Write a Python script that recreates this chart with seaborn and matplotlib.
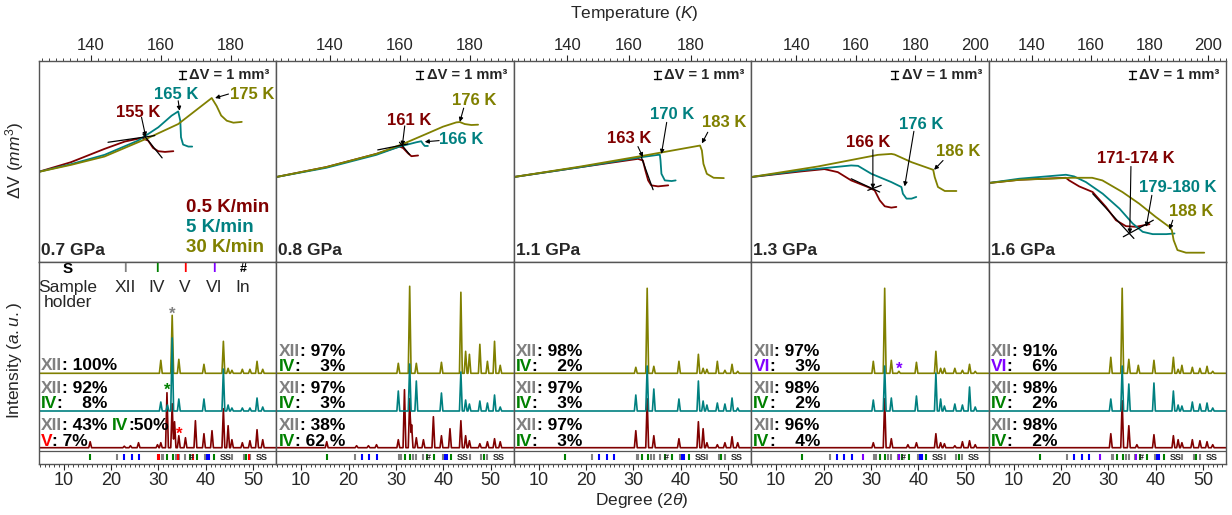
import re
import matplotlib
matplotlib.use('Agg')
import matplotlib.pyplot as plt
import matplotlib.transforms as mtransforms
from matplotlib.ticker import MultipleLocator
import seaborn as sns

RED = '#800000'
TEAL = '#008080'
OLIVE = '#808000'
PHASE_COL = {'XII': '#808080', 'IV': '#008000', 'V': '#ff0000', 'VI': '#8000ff'}

# ---------------- dilatometry (top row) ----------------
pressures = ['0.7 GPa', '0.8 GPa', '1.1 GPa', '1.3 GPa', '1.6 GPa']
t_limits = [(125, 193), (124.7, 192.4), (122.6, 199.5), (124.7, 204.6), (125.3, 206)]

T07_05 = [124.75, 134.3, 143.9, 149.7, 154.5, 156.4, 157.8, 159.3, 161.2, 163.6]
V07_05 = [11.29, 12.54, 14.21, 15.13, 15.58, 15.25, 14.33, 13.92, 13.83, 13.92]
T07_5 = [124.75, 134.3, 143.9, 153.5, 159.3, 163.1, 165.0, 165.6, 165.8, 166.4, 167.9, 169.0]
V07_5 = [11.29, 12.29, 13.46, 15.25, 16.92, 18.38, 18.92, 17.75, 15.67, 14.75, 14.5, 14.5]
T07_30 = [124.75, 134.3, 143.9, 156.4, 165.0, 174.6, 176.0, 177.3, 178.9, 180.8, 183.2]
V07_30 = [11.29, 12.2, 13.25, 15.58, 17.33, 20.6, 19.6, 18.4, 17.75, 17.5, 17.6]

T08_05 = [124.7, 139.0, 153.3, 159.9, 160.9, 162.3, 163.3, 165.2]
V08_05 = [10.67, 11.92, 13.58, 14.5, 14.33, 13.67, 13.29, 13.38]
T08_5 = [124.7, 139.0, 153.3, 159.9, 164.7, 166.1, 166.6, 167.1, 168.0]
V08_5 = [10.67, 11.83, 13.46, 14.5, 15.04, 15.17, 14.83, 14.58, 14.58]
T08_30 = [124.7, 139.0, 153.3, 160.9, 167.5, 172.3, 176.1, 177.1, 178.5, 180.4, 182.3]
V08_30 = [10.67, 11.92, 13.58, 14.83, 16.08, 17.0, 17.54, 17.58, 17.33, 17.21, 17.25]

T11_05 = [122.6, 144.4, 162.9, 164.5, 165.3, 166.2, 167.2, 169.4, 172.7]
V11_05 = [10.67, 11.92, 12.96, 12.75, 11.5, 10.25, 9.63, 9.5, 9.63]
T11_5 = [122.6, 144.4, 164.0, 169.4, 170.0, 170.2, 170.5, 171.6, 173.8, 175.1]
V11_5 = [10.67, 11.92, 13.17, 13.46, 13.46, 12.75, 11.08, 10.25, 10.17, 10.25]
T11_30 = [122.6, 144.4, 166.2, 183.0, 183.6, 184.1, 185.2, 187.4, 190.7]
V11_30 = [10.67, 12.0, 13.46, 14.63, 14.0, 12.33, 11.08, 10.58, 10.54]

T13_05 = [124.7, 141.6, 149.4, 153.9, 158.4, 164.0, 166.3, 168.0, 169.7, 171.9, 173.6]
V13_05 = [10.67, 11.38, 11.67, 11.29, 10.25, 9.42, 9.0, 7.75, 7.0, 6.83, 6.92]
T13_5 = [124.7, 141.6, 158.4, 160.7, 165.2, 171.9, 175.3, 175.8, 177.0, 178.7, 180.3]
V13_5 = [10.67, 11.5, 12.13, 12.08, 11.08, 10.04, 9.42, 8.58, 7.96, 7.96, 8.17]
T13_30 = [124.7, 147.2, 167.4, 171.9, 173.0, 178.7, 186.0, 186.5, 187.6, 189.9, 193.8]
V13_30 = [10.67, 12.0, 13.46, 13.58, 13.5, 12.54, 11.58, 10.67, 9.42, 8.92, 8.92]

T16_05 = [125.3, 135.7, 151.6, 152.7, 156.1, 160.7, 165.2, 168.6, 172.0, 175.4, 178.3, 180.0]
V16_05 = [9.92, 10.33, 10.58, 10.25, 9.5, 8.79, 6.92, 5.25, 4.5, 4.42, 4.63, 4.75]
T16_5 = [125.3, 135.7, 151.6, 154.4, 158.4, 164.1, 169.8, 174.3, 177.7, 181.1, 185.7, 188.5]
V16_5 = [9.92, 10.46, 10.96, 10.75, 10.04, 8.58, 6.71, 4.83, 3.79, 3.5, 3.5, 3.58]
T16_30 = [125.3, 136.0, 153.7, 160.5, 164.0, 170.8, 176.5, 182.1, 186.7, 187.6, 188.2, 189.5, 192.4, 198.6]
V16_30 = [9.92, 10.33, 10.58, 10.58, 10.25, 8.79, 7.33, 5.67, 4.42, 4.0, 2.75, 1.5, 1.17, 1.17]

curves = [
    [(T07_05, V07_05), (T07_5, V07_5), (T07_30, V07_30)],
    [(T08_05, V08_05), (T08_5, V08_5), (T08_30, V08_30)],
    [(T11_05, V11_05), (T11_5, V11_5), (T11_30, V11_30)],
    [(T13_05, V13_05), (T13_5, V13_5), (T13_30, V13_30)],
    [(T16_05, V16_05), (T16_5, V16_5), (T16_30, V16_30)],
]

# black tangent construction lines
tangents = [
    [([144.9, 158.3], [15.04, 15.88]), ([154.9, 160.4], [16.08, 13.08])],
    [([153.7, 162.3], [14.08, 14.83]), ([159.9, 162.8], [15.04, 13.5])],
    [([164.0, 167.8], [13.17, 9.08])],
    [([158.4, 168.0], [10.46, 8.79]), ([164.0, 168.5], [9.0, 9.63])],
    [([160.7, 174.7], [8.58, 2.96]), ([171.1, 181.3], [3.17, 5.25])],
]

# (label, colour, text pos, arrow start, arrow end)
transitions = [
    [('155 K', RED, (153.5, 18.8), (154.5, 18.17), (155.7, 15.75)),
     ('165 K', TEAL, (164.5, 21.1), (165.0, 20.25), (165.4, 19.0)),
     ('175 K', OLIVE, (186.1, 21.1), (179.4, 21.1), (175.55, 20.6))],
    [('161 K', RED, (162.8, 17.83), (161.4, 17.1), (160.7, 14.6)),
     ('176 K', OLIVE, (181.3, 20.33), (178.2, 19.33), (177.1, 17.6)),
     ('166 K', TEAL, (177.5, 15.33), (171.2, 15.25), (167.1, 15.1))],
    [('163 K', RED, (160.2, 15.46), (162.9, 14.5), (164.5, 13.17)),
     ('170 K', TEAL, (173.8, 18.58), (172.2, 17.54), (170.5, 13.58)),
     ('183 K', OLIVE, (190.7, 17.54), (185.5, 16.3), (183.6, 14.9))],
    [('166 K', RED, (164.0, 15.04), (165.7, 14.1), (165.7, 9.2)),
     ('176 K', TEAL, (182.0, 17.33), (179.5, 16.42), (176.4, 9.5)),
     ('186 K', OLIVE, (194.4, 13.92), (189.3, 12.75), (186.3, 11.58))],
    [('171-174 K', RED, (175.5, 12.96), (173.7, 12.0), (173.3, 3.58)),
     ('179-180 K', TEAL, (189.6, 9.42), (180.8, 8.38), (178.9, 4.42)),
     ('188 K', OLIVE, (194.2, 6.29), (187.9, 5.25), (186.8, 4.08))],
]

rates = ['0.5 K/min', '5 K/min', '30 K/min']
rate_colors = [RED, TEAL, OLIVE]

# ---------------- XRD (bottom row) ----------------
xii_pos = [30.5, 32.9, 34.3, 39.6, 43.7, 44.7, 45.5, 47.7, 49.3, 50.8, 52.0]

olive_h = [
    [13, 58, 14, 9, 32, 5, 3, 4, 4, 12, 4],
    [10, 87, 10, 11, 81, 22, 19, 29, 12, 32, 8],
    [6, 85, 7, 12, 19, 5, 4, 12, 3, 9, 2],
    [12, 85, 13, 11, 22, 5, 5, 5, 3, 9, 2],
    [16, 85, 14, 13, 16, 4, 8, 6, 5, 7, 2],
]
teal_h = [
    [9, 73, 12, 12, 42, 6, 3, 3, 3, 13, 4],
    [20, 47, 30, 18, 39, 11, 7, 10, 8, 16, 4],
    [16, 45, 22, 12, 30, 10, 6, 8, 7, 13, 3],
    [11, 45, 13, 15, 38, 12, 5, 7, 6, 24, 4],
    [12, 45, 27, 28, 20, 6, 5, 9, 7, 8, 3],
]
red_h = [
    [5, 44, 12, 14, 39, 22, 8, 5, 7, 18, 8],
    [8, 49, 10, 12, 27, 12, 7, 4, 6, 9, 6],
    [17, 49, 12, 9, 26, 19, 5, 3, 5, 11, 5],
    [5, 49, 9, 5, 14, 5, 4, 2, 6, 7, 3],
    [14, 47, 22, 13, 12, 8, 5, 8, 7, 6, 3],
]
# extra (non-XII) reflections per pattern: (position, height)
olive_extra = [[], [], [], [(35.9, 2)], [(36.3, 8)]]
teal_extra = [[(31.9, 6)], [], [], [], []]
red_extra = [
    [(15.6, 6), (22.8, 1.5), (24.1, 2), (25.8, 5), (29.8, 3), (31.8, 55), (33.4, 26),
     (35.7, 10), (37.8, 27), (41.3, 17)],
    [(15.4, 6), (21.7, 2), (24.2, 2), (25.9, 3), (31.8, 58), (33.3, 23), (35.8, 8),
     (37.9, 31), (41.4, 19)],
    [],
    [(37.8, 3)],
    [(36.0, 3)],
]
base_olive, base_teal, base_red = 90.7, 53.0, 16.3

olive_text = [['XII: 100%'], ['XII: 97%', 'IV:    3%'], ['XII: 98%', 'IV:    2%'],
              ['XII: 97%', 'VI:    3%'], ['XII: 91%', 'VI:    6%']]
teal_text = [['XII: 92%', 'IV:    8%'], ['XII: 97%', 'IV:    3%'], ['XII: 97%', 'IV:    3%'],
             ['XII: 98%', 'IV:    2%'], ['XII: 98%', 'IV:    2%']]
red_text = [['XII: 43% IV:50%', 'V: 7%'], ['XII: 38%', 'IV: 62 %'], ['XII: 97%', 'IV:    3%'],
            ['XII: 96%', 'IV:    4%'], ['XII: 98%', 'IV:    2%']]

xii_ticks = [21.3, 30.7, 31.0, 33.6, 34.3, 35.7, 39.9, 45.6, 48.0, 49.3]
iv_ticks = [15.5, 31.9, 33.0, 36.6, 38.1, 41.7, 48.5]
holder_ticks = [22.8, 24.4, 26.0, 40.3, 40.7]
v_ticks = [29.9, 30.2, 34.2, 37.2, 49.0]
vi_ticks = [28.3, 35.9]
in_pos = 36.9
ss_pos = [44.2, 51.7]


def pattern(pos, hts, base, w=0.3, xmin=4.7, xmax=54.8):
    keys = sorted(set([xmin, xmax] + [p + d for p in pos for d in (-w, 0.0, w)]))
    ys = [base + max([0.0] + [h * max(0.0, 1 - abs(x - p) / w) for p, h in zip(pos, hts)])
          for x in keys]
    return keys, ys


def phase_label(ax, x, y, s, fs=12.5):
    prev = None
    for part in [p for p in re.split(r'(XII|VI|IV|V)', s) if p]:
        col = PHASE_COL.get(part, 'black')
        if prev is None:
            prev = ax.text(x, y, part, color=col, fontsize=fs, fontweight='bold',
                           transform=mtransforms.blended_transform_factory(ax.transAxes, ax.transData),
                           ha='left', va='center')
        else:
            prev = ax.annotate(part, xy=(1, 0), xycoords=prev, color=col, fontsize=fs,
                               fontweight='bold', ha='left', va='bottom')


sns.set_style('white')
plt.rcParams['font.family'] = ['Liberation Sans', 'DejaVu Sans']
plt.rcParams['mathtext.fontset'] = 'custom'
plt.rcParams['mathtext.it'] = 'Liberation Sans:italic'
plt.rcParams['mathtext.rm'] = 'Liberation Sans'

fig = plt.figure(figsize=(12.32, 5.15), dpi=100)
W = 1232.0
H = 515.0
col_w = 237.5

for k in range(5):
    left = (38.5 + col_w * k) / W
    ax = fig.add_axes([left, 1 - 262 / H, col_w / W, 201 / H])
    bx = fig.add_axes([left, 1 - 464 / H, col_w / W, 202 / H])

    # ---- top: dilatometry
    for (tt, vv), c in zip(curves[k], rate_colors):
        sns.lineplot(x=tt, y=vv, ax=ax, color=c, lw=1.3, sort=False, estimator=None)
    for tt, vv in tangents[k]:
        ax.plot(tt, vv, color='black', lw=0.9)
    for lab, c, tp, a0, a1 in transitions[k]:
        ax.annotate('', xy=a1, xytext=a0,
                    arrowprops=dict(arrowstyle='-|>', color='black', lw=0.8, mutation_scale=6,
                                    shrinkA=0, shrinkB=0))
        ax.text(tp[0], tp[1], lab, color=c, fontsize=12, fontweight='bold', ha='center', va='center')
    ax.set_xlim(*t_limits[k])
    ax.set_ylim(0, 25.25)
    ax.xaxis.set_major_locator(MultipleLocator(20))
    ax.xaxis.set_minor_locator(MultipleLocator(2))
    ax.xaxis.tick_top()
    ax.tick_params(axis='x', which='major', top=True, bottom=False, direction='out', length=4,
                   width=0.8, labelsize=12, pad=2)
    ax.tick_params(axis='x', which='minor', top=True, bottom=False, direction='out', length=2, width=0.6)
    ax.set_yticks([])
    ax.set_xlabel('')
    ax.set_ylabel('')
    for sp in ax.spines.values():
        sp.set_color('#555555')
        sp.set_linewidth(1.0)
    ax.text(0.01, 0.02, pressures[k], transform=ax.transAxes, fontsize=12.5, fontweight='bold',
            ha='left', va='bottom')
    # scale bar
    tr = mtransforms.blended_transform_factory(ax.transAxes, ax.transData)
    ax.plot([0.605, 0.605], [22.96, 24.0], color='black', lw=1.0, transform=tr)
    ax.plot([0.59, 0.62], [22.96, 22.96], color='black', lw=1.0, transform=tr)
    ax.plot([0.59, 0.62], [24.0, 24.0], color='black', lw=1.0, transform=tr)
    ax.text(0.635, 23.45, 'ΔV = 1 mm³', transform=tr, fontsize=10.5, fontweight='bold',
            ha='left', va='center')
    if k == 0:
        for i, (r, c) in enumerate(zip(rates, rate_colors)):
            ax.text(0.62, 0.27 - i * 0.1, r, transform=ax.transAxes, color=c, fontsize=13.5,
                    fontweight='bold', ha='left', va='center')

    # ---- bottom: XRD
    rx, ry = pattern(xii_pos + [p for p, _ in red_extra[k]],
                     red_h[k] + [h for _, h in red_extra[k]], base_red)
    tx, ty = pattern(xii_pos + [p for p, _ in teal_extra[k]],
                     teal_h[k] + [h for _, h in teal_extra[k]], base_teal)
    ox, oy = pattern(xii_pos + [p for p, _ in olive_extra[k]],
                     olive_h[k] + [h for _, h in olive_extra[k]], base_olive)
    sns.lineplot(x=rx, y=ry, ax=bx, color=RED, lw=1.2, sort=False, estimator=None)
    sns.lineplot(x=ox, y=oy, ax=bx, color=OLIVE, lw=1.2, sort=False, estimator=None)
    sns.lineplot(x=tx, y=ty, ax=bx, color=TEAL, lw=1.2, sort=False, estimator=None)
    bx.set_xlim(4.7, 54.8)
    bx.set_ylim(0, 202)
    bx.axhline(13.3, color='#555555', lw=0.9)

    tick_sets = [(xii_ticks, PHASE_COL['XII']), (iv_ticks, PHASE_COL['IV']), (holder_ticks, '#0000ff')]
    if k == 0:
        tick_sets.append((v_ticks, PHASE_COL['V']))
    if k >= 3:
        tick_sets.append((vi_ticks, PHASE_COL['VI']))
    for pos, c in tick_sets:
        bx.vlines(pos, 4, 10.5, color=c, lw=1.5)
    bx.text(in_pos, 7, '#', fontsize=6.5, fontweight='bold', ha='center', va='center')
    for s in ss_pos:
        bx.text(s, 7, 'SS', fontsize=6.5, fontweight='bold', ha='center', va='center')

    lines = olive_text[k]
    ys_o = [99] if len(lines) == 1 else [112.3, 97.3]
    for s, y in zip(lines, ys_o):
        phase_label(bx, 0.01, y, s)
    for s, y in zip(teal_text[k], [75.7, 60.7]):
        phase_label(bx, 0.01, y, s)
    for s, y in zip(red_text[k], [38.0, 22.3]):
        phase_label(bx, 0.01, y, s)

    bx.xaxis.set_major_locator(MultipleLocator(10))
    bx.xaxis.set_minor_locator(MultipleLocator(1))
    bx.tick_params(axis='x', which='major', bottom=True, direction='out', length=4, width=0.8,
                   labelsize=13, pad=2)
    bx.tick_params(axis='x', which='minor', bottom=True, direction='out', length=2, width=0.6)
    bx.set_yticks([])
    bx.set_xlabel('')
    bx.set_ylabel('')
    for sp in bx.spines.values():
        sp.set_color('#555555')
        sp.set_linewidth(1.0)

    if k == 0:
        bx.text(32.9, 150, '*', color='#808080', fontsize=12, fontweight='bold', ha='center', va='center')
        bx.text(31.9, 74, '*', color='#008000', fontsize=12, fontweight='bold', ha='center', va='center')
        bx.text(34.4, 30, '*', color='#ff0000', fontsize=12, fontweight='bold', ha='center', va='center')
        legend_items = [(0.124, 'S', 'black', 'Sample\nholder'), (0.364, 'I', PHASE_COL['XII'], 'XII'),
                        (0.499, 'I', PHASE_COL['IV'], 'IV'), (0.617, 'I', PHASE_COL['V'], 'V'),
                        (0.739, 'I', PHASE_COL['VI'], 'VI'), (0.861, '#', 'black', 'In')]
        for xf, g, c, name in legend_items:
            bx.text(xf, 0.965, g, transform=bx.transAxes, color=c, fontsize=11 if g == 'S' else 9,
                    fontweight='bold', ha='center', va='center')
            bx.text(xf, 0.91, name, transform=bx.transAxes, fontsize=12.5, ha='center', va='top',
                    linespacing=1.0)
    if k == 3:
        bx.text(35.9, 95, '*', color='#8000ff', fontsize=12, fontweight='bold', ha='center', va='center')

fig.text(0.515, 0.973, 'Temperature ($\\mathit{K}$)', fontsize=12.5, ha='center', va='center')
fig.text(0.521, 0.029, 'Degree (2$\\mathit{\\theta}$)', fontsize=12.5, ha='center', va='center')
fig.text(0.012, 0.689, 'ΔV ($\\mathit{mm}^3$)', fontsize=12.5, rotation=90, ha='center', va='center')
fig.text(0.012, 0.30, 'Intensity ($\\mathit{a.u.}$)', fontsize=12.5, rotation=90, ha='center', va='center')

fig.savefig('out.png', dpi=100)
